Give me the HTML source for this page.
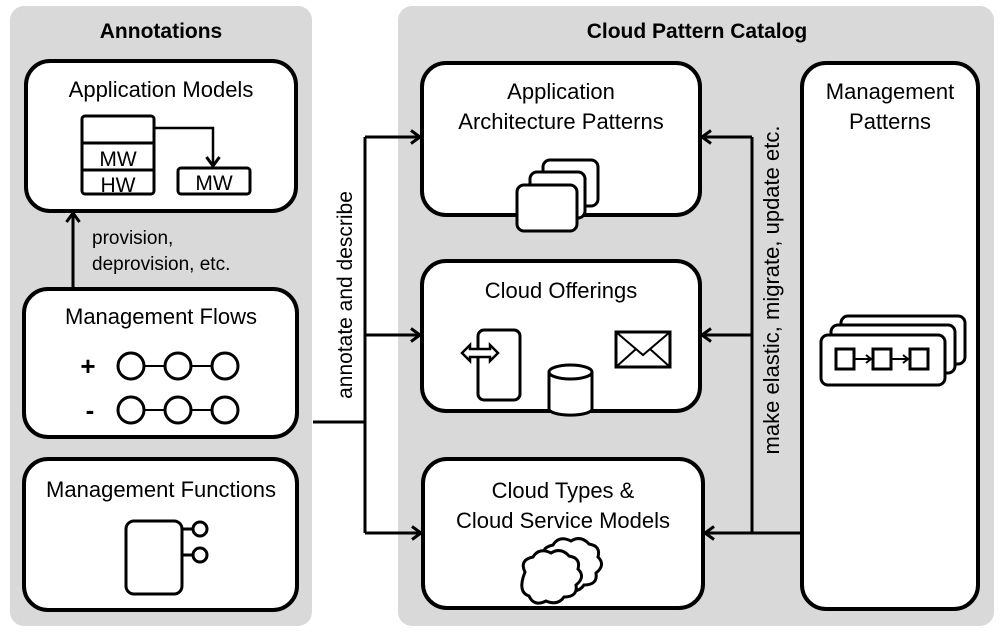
<!DOCTYPE html>
<html><head><meta charset="utf-8"><style>
html,body{margin:0;padding:0;background:#fff}
svg{display:block}
text{font-family:"Liberation Sans",sans-serif;fill:#000}
</style></head><body>
<svg width="1000" height="633" viewBox="0 0 1000 633" xmlns="http://www.w3.org/2000/svg">
<defs>
<marker id="ah" markerWidth="14" markerHeight="16" refX="11" refY="8" orient="auto" markerUnits="userSpaceOnUse">
<path d="M2,1.5 L11,8 L2,14.5" fill="none" stroke="#000" stroke-width="3"/>
</marker>
</defs>
<rect x="10" y="6" width="302" height="620" rx="14" fill="#d9d9d9"/>
<rect x="398" y="6" width="596" height="620" rx="14" fill="#d9d9d9"/>
<text x="161" y="38" font-size="21" font-weight="bold" text-anchor="middle">Annotations</text>
<text x="697" y="38" font-size="21" font-weight="bold" text-anchor="middle">Cloud Pattern Catalog</text>

<g fill="#fff" stroke="#000" stroke-width="4">
<rect x="26" y="61" width="270" height="150" rx="24"/>
<rect x="24" y="289" width="273" height="148" rx="24"/>
<rect x="24" y="459" width="273" height="151" rx="24"/>
<rect x="422" y="63" width="278" height="152" rx="24"/>
<rect x="422" y="261" width="278" height="150" rx="24"/>
<rect x="423" y="459" width="280" height="149" rx="24"/>
<rect x="802" y="63" width="176" height="546" rx="24"/>
</g>

<g font-size="22" text-anchor="middle">
<text x="161" y="97">Application Models</text>
<text x="161" y="324">Management Flows</text>
<text x="161" y="497">Management Functions</text>
<text x="561" y="99">Application</text>
<text x="561" y="129">Architecture Patterns</text>
<text x="561" y="298">Cloud Offerings</text>
<text x="563" y="498">Cloud Types &amp;</text>
<text x="563" y="528">Cloud Service Models</text>
<text x="890" y="99">Management</text>
<text x="890" y="129">Patterns</text>
</g>
<text x="92" y="244" font-size="19">provision,</text>
<text x="92" y="270" font-size="19">deprovision, etc.</text>

<!-- App models icon -->
<g stroke="#000" stroke-width="3" fill="#fff">
<rect x="82" y="116" width="72" height="78" rx="3"/>
<line x1="82" y1="143" x2="154" y2="143"/><line x1="82" y1="170" x2="154" y2="170"/>
<rect x="178" y="168" width="72" height="26" rx="3"/>
</g>
<text x="118" y="166" font-size="21" text-anchor="middle">MW</text>
<text x="118" y="192" font-size="21" text-anchor="middle">HW</text>
<text x="214" y="190" font-size="21" text-anchor="middle">MW</text>
<path d="M154,128 H213 V166" fill="none" stroke="#000" stroke-width="2.5" marker-end="url(#ah)"/>

<line x1="73" y1="289" x2="73" y2="213" stroke="#000" stroke-width="3" marker-end="url(#ah)"/>

<text x="88" y="375" font-size="26" font-weight="bold" text-anchor="middle">+</text>
<text x="90" y="419" font-size="26" font-weight="bold" text-anchor="middle">-</text>
<g stroke="#000" stroke-width="3" fill="#fff">
<line x1="131" y1="366" x2="225" y2="366" stroke-width="2"/>
<line x1="131" y1="410" x2="225" y2="410" stroke-width="2"/>
<circle cx="131" cy="366" r="13"/><circle cx="178" cy="366" r="13"/><circle cx="225" cy="366" r="13"/>
<circle cx="131" cy="410" r="13"/><circle cx="178" cy="410" r="13"/><circle cx="225" cy="410" r="13"/>
<rect x="126" y="521" width="56" height="73" rx="8"/>
<line x1="182" y1="529" x2="193" y2="529"/><line x1="182" y1="555" x2="193" y2="555"/>
<circle cx="200" cy="529" r="7"/><circle cx="200" cy="555" r="7"/>
</g>

<g stroke="#000" stroke-width="3" fill="none">
<path d="M313,422 H365"/>
<path d="M365,137 V533"/>
<line x1="365" y1="137" x2="420" y2="137" marker-end="url(#ah)"/>
<line x1="365" y1="335" x2="420" y2="335" marker-end="url(#ah)"/>
<line x1="365" y1="533" x2="421" y2="533" marker-end="url(#ah)"/>
<path d="M802,533 H752 V137"/>
<line x1="752" y1="137" x2="702" y2="137" marker-end="url(#ah)"/>
<line x1="752" y1="335" x2="702" y2="335" marker-end="url(#ah)"/>
<line x1="752" y1="533" x2="705" y2="533" marker-end="url(#ah)"/>
</g>
<text transform="translate(352,295) rotate(-90)" font-size="21" text-anchor="middle">annotate and describe</text>
<text transform="translate(779,290) rotate(-90)" font-size="22" text-anchor="middle">make elastic, migrate, update etc.</text>

<g stroke="#000" stroke-width="3" fill="#fff">
<rect x="543" y="160" width="55" height="46" rx="7"/>
<rect x="530" y="172" width="55" height="46" rx="7"/>
<rect x="517" y="185" width="60" height="46" rx="7"/>
<rect x="478" y="330" width="42" height="70" rx="6"/>
<path d="M462,353 L470,345 V349 H490 V345 L498,353 L490,361 V357 H470 V361 Z" stroke-width="2.5"/>
<path d="M549,372 V409 A21,6 0 0 0 592,409 V372" />
<ellipse cx="570.5" cy="372" rx="21.5" ry="7"/>
<rect x="616" y="332" width="54" height="35"/>
<path d="M616,332 L643,355 L670,332 M616,367 L636,349 M670,367 L650,349" fill="none" stroke-width="2"/>
<path d="M545,560 q-6,-12 8,-15 q6,-10 18,-4 q10,-6 18,3 q12,2 9,13 q8,8 -2,16 q2,12 -12,12 q-6,9 -18,4 q-12,6 -17,-5 q-12,-4 -4,-24 z"/>
<path d="M525,572 q-6,-12 8,-15 q6,-10 18,-4 q10,-6 18,3 q12,2 9,13 q8,8 -2,16 q2,12 -12,12 q-6,9 -18,4 q-12,6 -17,-5 q-12,-4 -4,-24 z"/>
<rect x="841" y="316" width="124" height="48" rx="7"/>
<rect x="831" y="325" width="124" height="48" rx="7"/>
<rect x="821" y="335" width="124" height="50" rx="7"/>
<rect x="836" y="349" width="18" height="20" fill="none"/>
<rect x="873" y="349" width="18" height="20" fill="none"/>
<rect x="910" y="349" width="18" height="20" fill="none"/>
<path d="M854,359 H870 M866,355 L871,359 L866,363 M891,359 H907 M903,355 L908,359 L903,363" fill="none" stroke-width="2"/>
</g>
</svg>
</body></html>
